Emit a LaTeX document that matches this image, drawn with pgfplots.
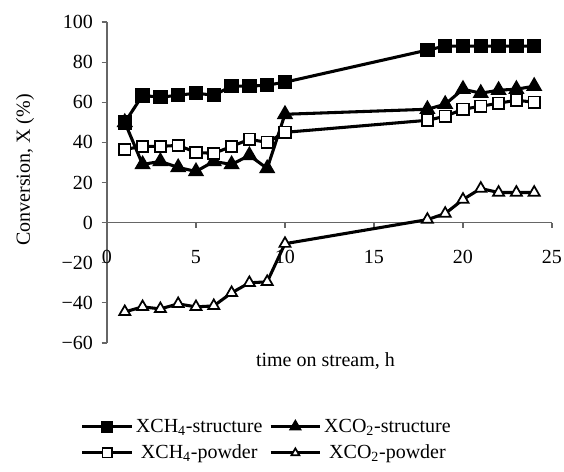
\documentclass[border=0pt]{standalone}
\usepackage{pgfplots}
\pgfplotsset{compat=1.18}
\usepackage{fontspec}
\setmainfont{Liberation Serif}

\begin{document}
\begin{tikzpicture}
\begin{axis}[
    scale only axis,
    width=333.75pt, height=240.75pt,
    xmin=0, xmax=25,
    ymin=-60, ymax=100,
    axis x line=middle,
    axis y line=left,
    axis line style={-, draw=gray!80!black, line width=0.8pt},
    tick style={draw=gray!80!black, line width=0.8pt},
    tick align=outside,
    major tick length=4pt,
    hide obscured x ticks=false,
    xtick={0,5,10,15,20,25},
    xticklabels={0,5,10,15,20,25},
    ytick={-60,-40,-20,0,20,40,60,80,100},
    yticklabels={−60,−40,−20,0,20,40,60,80,100},
    xticklabel style={yshift=-13pt},
    yticklabel style={xshift=-3pt},
    font=\fontsize{15}{18}\selectfont,
    xlabel={time on stream, h},
    xlabel style={at={(rel axis cs:0.491,-0.056)}, anchor=center},
    ylabel={Conversion, X (\%)},
    ylabel style={at={(rel axis cs:-0.184,0.539)}, anchor=center, rotate=0},
    every axis plot/.append style={line width=2.3pt, mark size=4.3pt, black},
    legend columns=2,
    legend style={draw=none, fill=none, at={(rel axis cs:0.36,-0.302)}, anchor=center,
        font=\fontsize{15}{18}\selectfont,
        /tikz/every even column/.append style={column sep=3pt},
        row sep=4pt},
    legend image code/.code={
        \draw[mark repeat=2, mark phase=2, mark size=3.4pt]
        plot coordinates {(0cm,0cm) (0.65cm,0cm) (1.3cm,0cm)};},
    clip=false,
]
% XCO2-structure drawn first so the square at t = 1 h covers it
\addplot[forget plot, mark=triangle*, mark size=4.8pt, mark options={solid, fill=black}] coordinates {
    (1,50) (2,29) (3,30.5) (4,27.5) (5,25.5) (6,30.5) (7,29) (8,33.5) (9,27) (10,54)
    (18,56.5) (19,59) (20,66.5) (21,64.5) (22,66) (23,66.5) (24,68)};
\addplot[mark=square*, mark options={solid, fill=black}] coordinates {
    (1,50) (2,63.4) (3,62.5) (4,63.5) (5,64.5) (6,63.5) (7,68) (8,68) (9,68.5) (10,70)
    (18,86) (19,88) (20,88) (21,88) (22,88) (23,88) (24,88)};
\addlegendimage{black, line width=2.3pt, mark=triangle*, mark options={solid, fill=black}}
\addplot[mark=square*, mark options={solid, fill=white, line width=1.3pt}] coordinates {
    (1,36.5) (2,38) (3,38) (4,38.5) (5,35) (6,34.5) (7,38) (8,41.5) (9,40) (10,45)
    (18,51) (19,53) (20,56.5) (21,58) (22,59.5) (23,61) (24,60)};
\addplot[mark=triangle*, mark size=4.8pt, mark options={solid, fill=white, line width=1.3pt}] coordinates {
    (1,-44.5) (2,-42) (3,-43) (4,-40.5) (5,-42) (6,-41.5) (7,-35) (8,-30) (9,-29.5) (10,-10.5)
    (18,1.5) (19,4.5) (20,11.5) (21,17) (22,15) (23,15) (24,15)};
\legend{XCH\textsubscript{4}-structure, XCO\textsubscript{2}-structure,
        XCH\textsubscript{4}-powder, XCO\textsubscript{2}-powder}
\coordinate (bbsw) at (rel axis cs:-0.2404,-0.3988);
\coordinate (bbne) at (rel axis cs:1.027,1.0685);
\end{axis}
\pgfresetboundingbox
\path[use as bounding box] (bbsw) rectangle (bbne);
\end{tikzpicture}
\end{document}
